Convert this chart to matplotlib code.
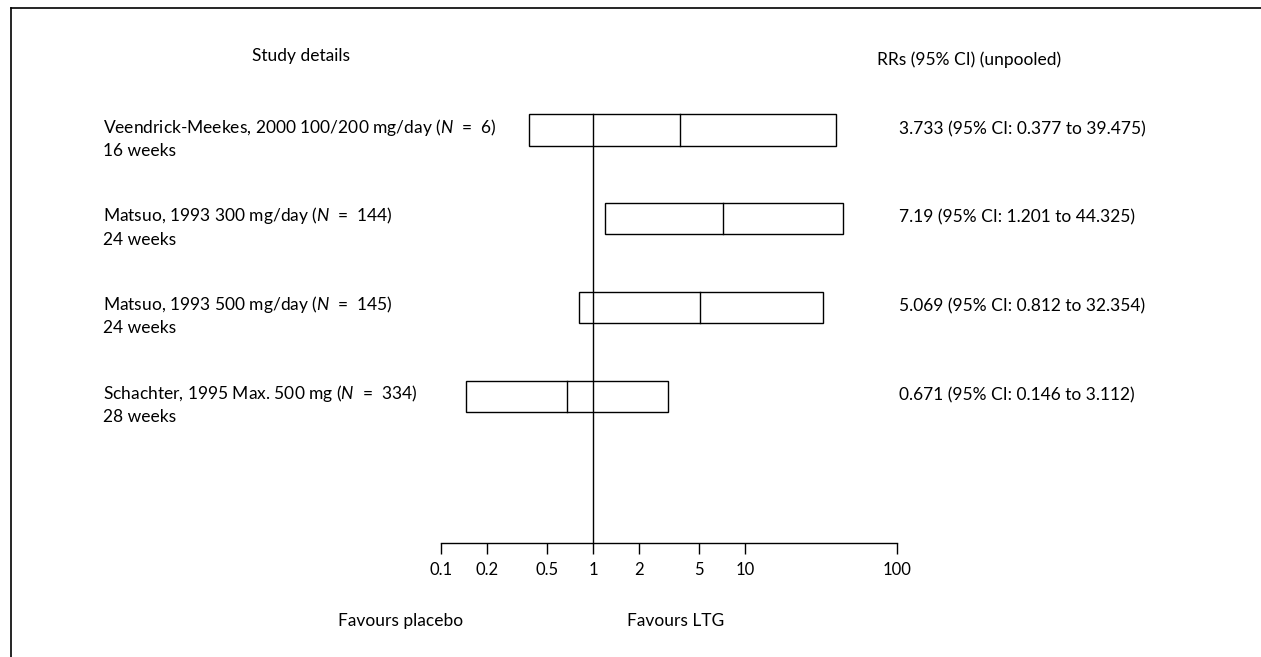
import matplotlib
matplotlib.use("Agg")
import matplotlib.pyplot as plt
from matplotlib.patches import Rectangle
from matplotlib.lines import Line2D

plt.rcParams['font.family'] = ['Lato', 'DejaVu Sans']
plt.rcParams['mathtext.fontset'] = 'custom'
plt.rcParams['mathtext.it'] = 'Lato:italic'
plt.rcParams['mathtext.rm'] = 'Lato'

studies = ["Veendrick-Meekes, 2000 100/200 mg/day ($N$  =  6)",
           "Matsuo, 1993 300 mg/day ($N$  =  144)",
           "Matsuo, 1993 500 mg/day ($N$  =  145)",
           "Schachter, 1995 Max. 500 mg ($N$  =  334)"]
durations = ["16 weeks", "24 weeks", "24 weeks", "28 weeks"]
rr = [3.733, 7.19, 5.069, 0.671]
lo = [0.377, 1.201, 0.812, 0.146]
hi = [39.475, 44.325, 32.354, 3.112]
rr_text = ["3.733 (95% CI: 0.377 to 39.475)",
           "7.19 (95% CI: 1.201 to 44.325)",
           "5.069 (95% CI: 0.812 to 32.354)",
           "0.671 (95% CI: 0.146 to 3.112)"]
ticks = [0.1, 0.2, 0.5, 1, 2, 5, 10, 100]
tick_labels = ["0.1", "0.2", "0.5", "1", "2", "5", "10", "100"]

W, H = 1261, 657
fig = plt.figure(figsize=(W/100, H/100), dpi=100)

# axes geometry in pixels
x0, x1 = 441, 897
ybot, row0, rowstep = 543, 130, 88.7
ytop = row0 - rowstep
ax = fig.add_axes([x0/W, (H-ybot)/H, (x1-x0)/W, (ybot-ytop)/H])
ax.set_xscale('log')
ax.set_xlim(0.1, 100)
ymax = (ybot - row0)/rowstep
ax.set_ylim(ymax, -1)
for s in ['top', 'right', 'left']:
    ax.spines[s].set_visible(False)
ax.spines['bottom'].set_linewidth(1.0)
ax.set_yticks([])
ax.set_xticks(ticks)
ax.set_xticklabels(tick_labels, fontsize=12)
ax.minorticks_off()
ax.tick_params(axis='x', length=8, width=1.0, pad=6)

hh = 0.175
ax.plot([1, 1], [-hh, ymax], color='black', lw=1.0, clip_on=False)
for i in range(len(rr)):
    ax.add_patch(Rectangle((lo[i], i-hh), hi[i]-lo[i], 2*hh, fill=False,
                           edgecolor='black', lw=1.0))
    ax.plot([rr[i], rr[i]], [i-hh, i+hh], color='black', lw=1.0)

fs = 12.5
def fy(py):
    return 1 - py/H

fig.text(252/W, fy(56), "Study details", fontsize=fs, va='center', ha='left')
fig.text(877/W, fy(60), "RRs (95% CI) (unpooled)", fontsize=fs, va='center', ha='left')
for i in range(len(rr)):
    yc = row0 + i*rowstep
    fig.text(103/W, fy(yc-3), studies[i], fontsize=fs, va='center', ha='left')
    fig.text(103/W, fy(yc+21), durations[i], fontsize=fs, va='center', ha='left')
    fig.text(899/W, fy(yc-1), rr_text[i], fontsize=fs, va='center', ha='left')

fig.text(338/W, fy(621), "Favours placebo", fontsize=fs, va='center', ha='left')
fig.text(627/W, fy(621), "Favours LTG", fontsize=fs, va='center', ha='left')

# frame lines
fig.add_artist(Line2D([10.5/W, 1], [fy(8), fy(8)], color='black', lw=1.2))
fig.add_artist(Line2D([10.5/W, 10.5/W], [fy(8), 0], color='black', lw=1.2))

fig.savefig("out.png", dpi=100)
